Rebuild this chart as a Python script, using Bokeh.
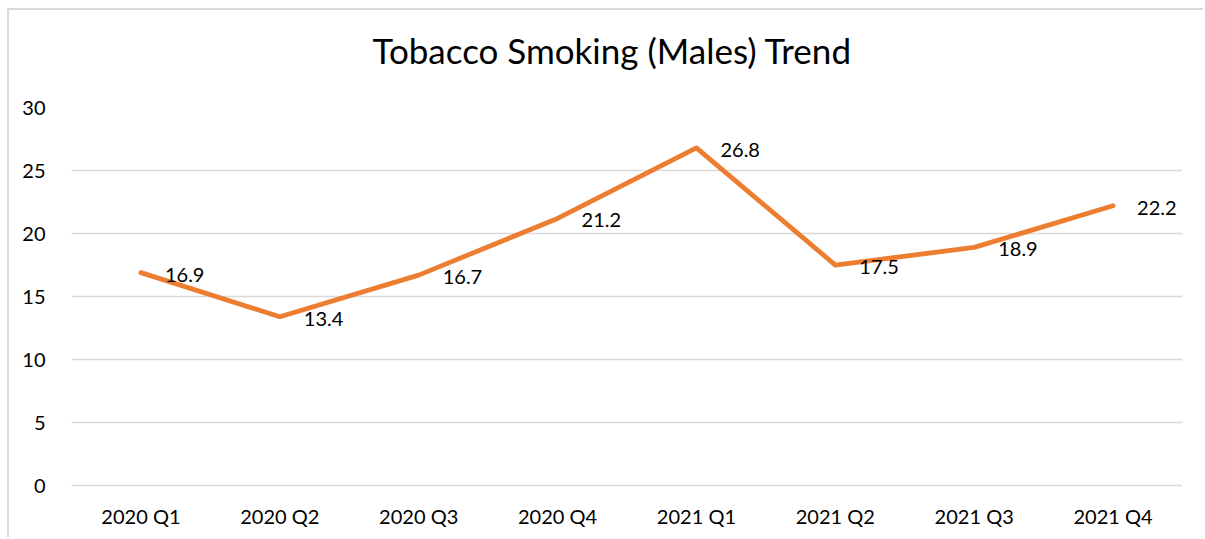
from bokeh.plotting import figure
from bokeh.models import ColumnDataSource, Title, FixedTicker
from bokeh.core.properties import value
from bokeh.embed import file_html
from bokeh.resources import INLINE

quarters = ["2020 Q1", "2020 Q2", "2020 Q3", "2020 Q4", "2021 Q1", "2021 Q2", "2021 Q3", "2021 Q4"]
males = [16.9, 13.4, 16.7, 21.2, 26.8, 17.5, 18.9, 22.2]
y_ticks = [0, 5, 10, 15, 20, 25, 30]
title_text = "Tobacco Smoking (Males) Trend"

FONT = "Lato"
ORANGE = "#ED7D31"
GRID = "#D9D9D9"

src = ColumnDataSource(dict(q=quarters, v=males, lbl=[f"{v:.1f}" for v in males]))

p = figure(x_range=quarters, y_range=(-0.15, 30), width=1196, height=529,
           output_backend="svg", toolbar_location=None,
           min_border_left=62, min_border_right=23, min_border_top=97, min_border_bottom=52)
p.margin = (8, 0, 0, 7)
p.styles = {"border-top": "2px solid #D9D9D9", "border-left": "2px solid #D9D9D9"}
p.outline_line_color = None
p.x_range.range_padding = 0

# spacer between plot area and title
p.add_layout(Title(text=" ", text_font_size="1px", standoff=34), "above")
p.add_layout(Title(text=title_text, align="left", vertical_align="bottom", text_font=FONT,
                   text_font_size="35px", text_font_style="normal", text_color="#000000",
                   standoff=0, offset=301), "above")

p.line("q", "v", source=src, line_color=ORANGE, line_width=4.8, line_cap="round", line_join="round")
p.text("q", "v", text="lbl", source=src, x_offset=24, y_offset=2, text_baseline="middle",
       text_align="left", text_font=value(FONT), text_font_size="20px", text_color="#000000")

p.yaxis.ticker = FixedTicker(ticks=y_ticks)
for ax in (p.xaxis[0], p.yaxis[0]):
    ax.axis_line_color = None
    ax.major_tick_line_color = None
    ax.minor_tick_line_color = None
    ax.major_label_text_font = FONT
    ax.major_label_text_font_size = "20px"
    ax.major_label_text_color = "#000000"
p.yaxis.major_label_standoff = 20
p.xaxis.major_label_standoff = 10

p.xgrid.grid_line_color = None
p.ygrid.grid_line_color = GRID
p.ygrid.grid_line_width = 1.5

open("out.html", "w").write(file_html(p, INLINE))
